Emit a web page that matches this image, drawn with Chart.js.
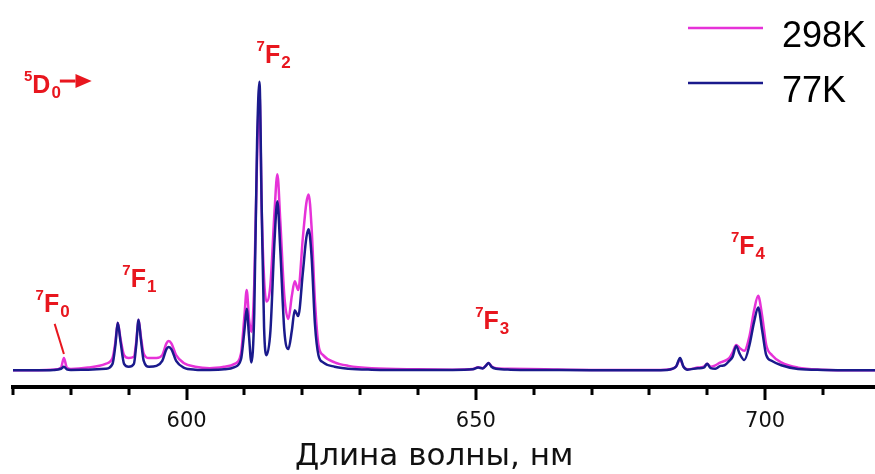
<!DOCTYPE html>
<html>
<head>
<meta charset="utf-8">
<script src="https://cdn.jsdelivr.net/npm/chart.js@4/dist/chart.umd.min.js"></script>
<style>
    html, body { margin: 0; padding: 0; background: #fff; }
</style>
</head>
<body>
<canvas id="graph" width="875" height="474"></canvas>
<script>
// Длина волны, нм
var wavelengths = [570, 574, 577, 578.3, 578.8, 579.3, 580, 583, 586, 587.2, 587.7, 588.1, 588.6, 589.2, 590,
    590.9, 591.3, 591.7, 592.1, 592.6, 593.5, 594.8, 595.8, 596.5, 596.9, 597.4, 598.2, 599.5, 601.5, 604,
    606.5, 608.3, 609.4, 610, 610.4, 610.8, 611.2, 611.7, 612.2, 612.6, 613.0, 613.4, 613.8, 614.5, 615.2,
    615.7, 616.2, 616.9, 617.6, 618.2, 618.7, 619.3, 620.1, 620.7, 621.1, 621.6, 622.2, 622.8, 623.6, 625.6,
    628, 632, 640, 646, 649.5, 650.4, 651.2, 651.8, 652.2, 652.7, 653.5, 656, 662, 670, 678,
    683, 684.6, 685.3, 685.9, 686.6, 688.4, 689.4, 690, 690.6, 691.4, 692.3, 693, 693.8, 694.4, 695,
    695.6, 696.4, 697.3, 698.1, 698.8, 699.5, 700.2, 701.2, 702.8, 705.7, 710, 715, 720];

// 298K
var int_298 = [0.3, 0.3, 0.5, 1.2, 4.5, 1.2, 0.7, 1.2, 2.5, 4.5, 10, 16.7, 11, 5.5, 4.5,
    5, 10, 17.7, 12, 6, 4.5, 4.5, 5.5, 9.5, 10.4, 9.5, 5.5, 2.8, 1.5, 1.0,
    1.5, 2.5, 6, 19, 28, 18, 13.5, 30, 75, 96, 55, 32, 24, 30, 55,
    68, 52, 26, 18, 26, 31, 28, 46, 58, 61, 50, 24, 9, 5.5, 3,
    1.8, 1, 0.6, 0.5, 0.7, 1.3, 1, 2, 2.8, 1.7, 1, 0.8, 0.6, 0.4, 0.4,
    0.5, 1.5, 4, 1.5, 0.6, 1.2, 1.5, 2.5, 1.5, 2, 3, 3.5, 4.5, 6.5, 9,
    8, 7, 12, 21, 26, 19, 9, 5.5, 3, 1.2, 0.5, 0.3, 0.3];

// 77K
var int_77 = [0.3, 0.3, 0.4, 0.8, 1.5, 0.6, 0.4, 0.5, 0.8, 2.5, 9, 16.7, 10, 2.5, 1.5,
    2.5, 9, 17.7, 11, 3.5, 1.5, 1.8, 3.5, 7.5, 8.3, 7.5, 3.5, 1.2, 0.5, 0.4,
    0.6, 1.4, 4, 14, 21.5, 12, 3, 20, 80, 100, 55, 15, 5.5, 14, 45,
    58.7, 42, 14, 7.6, 14, 21, 19, 34, 46, 49, 40, 16, 5.5, 3, 1.5,
    0.8, 0.5, 0.4, 0.4, 0.6, 1.2, 0.9, 2, 2.8, 1.5, 0.8, 0.5, 0.4, 0.3, 0.3,
    0.4, 1.5, 4.5, 1.5, 0.5, 1, 1.2, 2.5, 1, 0.8, 1.8, 2, 3.5, 5, 8.7,
    6, 3.8, 9, 17, 22, 14, 5.5, 3.5, 2, 0.7, 0.4, 0.3, 0.3];

var series_labels = ['298K', '77K'];
var series_colors = ['#e632d8', '#1a1a8c'];
var x_labels = [600, 650, 700];

// подписи переходов: верхний индекс, буква, нижний индекс, положение (нм, интенсивность)
var terms = [
    {sup: '5', main: 'D', sub: '0', nm: 571.9, val: 95.9},
    {sup: '7', main: 'F', sub: '0', nm: 573.9, val: 20.5},
    {sup: '7', main: 'F', sub: '1', nm: 588.9, val: 29.2},
    {sup: '7', main: 'F', sub: '2', nm: 612.1, val: 106.3},
    {sup: '7', main: 'F', sub: '3', nm: 649.9, val: 14.6},
    {sup: '7', main: 'F', sub: '4', nm: 694.1, val: 40.3}
];

var RED = '#e8161e';
var FONT = '"Liberation Sans", Arial, sans-serif';
var AXIS_FONT = '"DejaVu Sans", sans-serif';

function to_points(ys) {
    return wavelengths.map((w, i) => ({x: w, y: ys[i]}));
}

var decor = {
    id: 'decor',
    afterDraw(chart) {
        var ctx = chart.ctx;
        var xs = chart.scales.x, ys = chart.scales.y;
        var bottom = chart.chartArea.bottom;
        ctx.save();

        // деления оси
        ctx.strokeStyle = '#000';
        ctx.lineWidth = 3;
        for (var v = 570; v <= xs.max; v += 10) {
            var px = Math.round(xs.getPixelForValue(v));
            var len = (v % 50 == 0) ? 13 : 8;
            ctx.beginPath();
            ctx.moveTo(px, bottom);
            ctx.lineTo(px, bottom + len);
            ctx.stroke();
        }

        // легенда
        chart.data.datasets.forEach((ds, i) => {
            var y = 28 + i * 55;
            ctx.strokeStyle = ds.borderColor;
            ctx.lineWidth = 2.5;
            ctx.beginPath();
            ctx.moveTo(688, y);
            ctx.lineTo(763, y);
            ctx.stroke();
            ctx.fillStyle = '#000';
            ctx.font = '36px ' + FONT;
            ctx.textBaseline = 'alphabetic';
            ctx.fillText(ds.label, 782, y + 19);
        });

        // подписи переходов
        ctx.fillStyle = RED;
        ctx.textBaseline = 'alphabetic';
        for (const t of terms) {
            var x = xs.getPixelForValue(t.nm);
            var y = ys.getPixelForValue(t.val);
            ctx.font = 'bold 15px ' + FONT;
            ctx.fillText(t.sup, x, y - 12);
            x += ctx.measureText(t.sup).width;
            ctx.font = 'bold 25px ' + FONT;
            ctx.fillText(t.main, x, y);
            x += ctx.measureText(t.main).width + 1;
            ctx.font = 'bold 17px ' + FONT;
            ctx.fillText(t.sub, x, y + 5);
        }

        // стрелка 5D0 ->
        ctx.strokeStyle = RED;
        ctx.lineWidth = 3;
        var ay = ys.getPixelForValue(100.2);
        var a0 = xs.getPixelForValue(578.1), a1 = xs.getPixelForValue(580.8), a2 = xs.getPixelForValue(583.6);
        ctx.beginPath();
        ctx.moveTo(a0, ay);
        ctx.lineTo(a1, ay);
        ctx.stroke();
        ctx.beginPath();
        ctx.moveTo(a1, ay - 7);
        ctx.lineTo(a2, ay);
        ctx.lineTo(a1, ay + 7);
        ctx.closePath();
        ctx.fill();

        // указатель на 7F0
        ctx.lineWidth = 2;
        ctx.beginPath();
        ctx.moveTo(xs.getPixelForValue(577.2), ys.getPixelForValue(16.3));
        ctx.lineTo(xs.getPixelForValue(578.8), ys.getPixelForValue(5.9));
        ctx.stroke();

        ctx.restore();
    }
};

window.onload = () => {
    var chart = new Chart("graph", {
        type: 'line',
        data: {
            datasets: [
                {
                    label: series_labels[0],
                    data: to_points(int_298),
                    borderColor: series_colors[0],
                    borderWidth: 2.5,
                    pointRadius: 0,
                    cubicInterpolationMode: 'monotone',
                    order: 1
                },
                {
                    label: series_labels[1],
                    data: to_points(int_77),
                    borderColor: series_colors[1],
                    borderWidth: 2.5,
                    pointRadius: 0,
                    cubicInterpolationMode: 'monotone',
                    order: 0
                }
            ]
        },
        options: {
            responsive: false,
            animation: false,
            layout: { padding: { left: 13, right: 0, top: 0, bottom: 0 } },
            plugins: { legend: { display: false }, tooltip: { enabled: false } },
            scales: {
                x: {
                    type: 'linear',
                    min: 570,
                    max: 719,
                    border: { display: true, color: '#000', width: 4 },
                    grid: { drawOnChartArea: false, drawTicks: true, tickLength: 22, tickColor: 'rgba(0,0,0,0)' },
                    ticks: {
                        stepSize: 10,
                        autoSkip: false,
                        maxRotation: 0,
                        padding: 0,
                        color: '#111',
                        font: { family: AXIS_FONT, size: 21 },
                        callback: (v) => x_labels.includes(v) ? String(v) : ''
                    },
                    title: {
                        display: true,
                        text: 'Длина волны, нм\u00a0\u00a0',
                        color: '#111',
                        font: { family: AXIS_FONT, size: 31 },
                        padding: { top: 4.6, bottom: -2 }
                    }
                },
                y: {
                    display: false,
                    min: -5.5,
                    max: 128.2
                }
            }
        },
        plugins: [decor]
    });
};
</script>
</body>
</html>
